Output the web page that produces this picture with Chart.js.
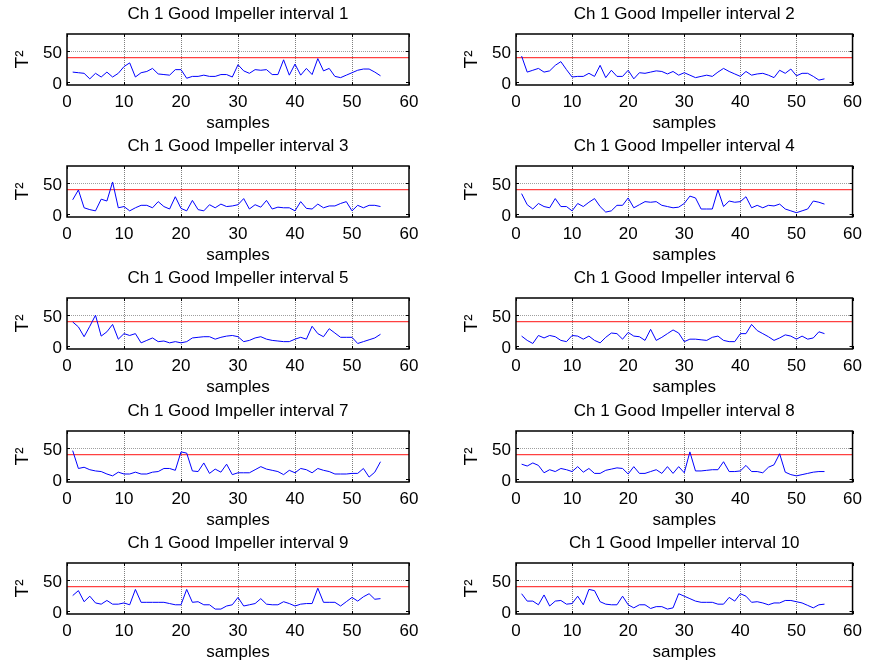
<!DOCTYPE html>
<html><head><meta charset="utf-8">
<script src="https://cdn.jsdelivr.net/npm/chart.js@4/dist/chart.umd.min.js"></script>
<style>
html,body{margin:0;padding:0;background:#fff;width:869px;height:666px;overflow:hidden;position:relative}
canvas{position:absolute}
</style></head><body>
<script>
// ---------- data ----------
const sampleIdx = [1,2,3,4,5,6,7,8,9,10,11,12,13,14,15,16,17,18,19,20,21,22,23,24,25,26,27,28,29,30,31,32,33,34,35,36,37,38,39,40,41,42,43,44,45,46,47,48,49,50,51,52,53,54,55];
const panelTitles = ["Ch 1 Good Impeller interval 1","Ch 1 Good Impeller interval 2","Ch 1 Good Impeller interval 3","Ch 1 Good Impeller interval 4","Ch 1 Good Impeller interval 5","Ch 1 Good Impeller interval 6","Ch 1 Good Impeller interval 7","Ch 1 Good Impeller interval 8","Ch 1 Good Impeller interval 9","Ch 1 Good Impeller interval 10"];
const interval1 = [16,15,14,5,14,8,16,8,14,25,31,8,15,17,22,13,12,11,20,20,6,9,9,11,9,9,12,12,8,28,18,14,20,19,20,12,12,36,11,29,11,22,12,38,18,22,9,7,11,15,19,21,21,16,10];
const interval2 = [42,16,19,22,16,18,27,33,20,8,9,9,14,9,27,7,19,9,9,19,5,15,14,16,18,17,13,17,11,15,11,7,9,11,9,16,22,17,13,9,17,11,13,14,11,7,19,14,21,10,14,14,9,3,5];
const interval3 = [23,39,10,7,5,24,21,52,10,12,5,10,14,14,10,20,12,8,28,9,5,22,7,5,15,10,16,12,13,15,25,8,15,11,22,8,11,10,10,5,20,9,8,16,10,13,13,17,20,5,14,10,14,14,12];
const interval4 = [33,15,8,17,12,10,25,12,12,5,17,12,19,25,12,3,5,14,14,26,10,15,20,19,20,14,12,10,11,17,29,26,8,8,8,39,12,21,19,20,28,10,14,10,14,13,16,8,5,2,5,8,21,19,16];
const interval5 = [39,31,15,32,50,16,23,35,11,20,17,20,5,9,13,7,8,5,7,5,7,13,14,15,15,11,14,16,17,15,7,9,13,15,11,9,8,7,7,11,14,11,32,20,15,28,21,14,14,14,4,7,10,13,19];
const interval6 = [16,9,4,17,13,17,15,9,7,17,16,11,16,9,5,14,21,20,11,22,16,15,9,27,9,14,20,26,21,7,11,11,10,9,14,16,9,7,7,20,20,35,25,20,15,9,13,18,16,11,16,11,13,23,20];
const interval7 = [46,17,19,15,13,12,8,5,11,8,8,11,8,8,11,12,17,17,14,44,42,13,12,26,9,16,11,24,7,10,10,10,15,20,16,14,12,7,14,10,17,15,10,17,14,12,8,8,8,9,9,17,3,11,28];
const interval8 = [24,21,26,22,10,15,12,17,15,12,20,11,17,9,9,14,16,18,17,8,20,9,9,12,15,9,20,9,20,10,44,13,13,14,15,15,28,12,12,13,22,12,12,10,19,23,41,11,7,5,7,9,11,12,12];
const interval9 = [25,33,15,24,13,11,17,11,11,13,10,35,14,14,14,14,14,12,10,10,35,14,15,10,10,3,3,8,10,22,8,10,12,20,11,10,10,15,12,8,11,12,12,37,14,14,14,8,15,22,16,23,28,19,20];
const interval10 = [28,16,16,10,26,8,16,17,11,12,24,10,35,33,15,11,10,10,24,10,5,10,10,4,7,7,3,5,28,24,20,16,14,14,14,11,11,22,16,28,24,14,15,13,10,13,13,17,17,15,13,9,5,10,11];
const limitX = [0, 60];
const limitY = [39.5, 39.5];
const xTicks = [0,10,20,30,40,50,60];
const yTicks = [0,50];
const xGrid = [10,20,30,40,50];
const yGrid = [50];

const seriesList = [interval1,interval2,interval3,interval4,interval5,interval6,interval7,interval8,interval9,interval10];

// ---------- layout ----------
const FONT = "'Liberation Sans', Arial, sans-serif";
const FS = 17;
const colLeft = [67, 516], colWidth = [342, 340];
const rowTop = [34, 166, 298, 431, 563];
const plotH = 51;
const YAXW = 67, XAXH = 50, TITLEH = 35;

const framePlugin = {
  id: 'frame',
  beforeDatasetsDraw(chart) {
    const {ctx, chartArea: a, scales: {x, y}} = chart;
    ctx.save();
    ctx.lineWidth = 1;
    ctx.setLineDash([1, 1]);
    ctx.strokeStyle = 'rgba(0,0,0,0.5)';
    xGrid.forEach(v => {
      const px = Math.round(x.getPixelForValue(v)) + 0.5;
      ctx.beginPath(); ctx.moveTo(px, a.top); ctx.lineTo(px, a.bottom); ctx.stroke();
    });
    ctx.strokeStyle = 'rgba(0,0,0,0.38)';
    yGrid.forEach(v => {
      const py = Math.round(y.getPixelForValue(v)) + 0.5;
      ctx.beginPath(); ctx.moveTo(a.left, py); ctx.lineTo(a.right, py); ctx.stroke();
    });
    ctx.restore();
  },
  afterDatasetsDraw(chart) {
    const {ctx, chartArea: a, scales: {x, y}} = chart;
    ctx.save();
    ctx.setLineDash([]);
    ctx.strokeStyle = '#000';
    ctx.lineWidth = 1;
    const T = 3;
    xTicks.forEach(v => {
      const px = Math.round(x.getPixelForValue(v)) + 0.5;
      ctx.beginPath();
      ctx.moveTo(px, a.bottom); ctx.lineTo(px, a.bottom - T);
      ctx.moveTo(px, a.top); ctx.lineTo(px, a.top + T);
      ctx.stroke();
    });
    yTicks.forEach(v => {
      const py = Math.round(y.getPixelForValue(v)) + 0.5;
      ctx.beginPath();
      ctx.moveTo(a.left, py); ctx.lineTo(a.left + T, py);
      ctx.moveTo(a.right, py); ctx.lineTo(a.right - T, py);
      ctx.stroke();
    });
    ctx.lineWidth = 1.5;
    ctx.strokeRect(a.left, a.top, a.right - a.left, a.bottom - a.top);
    ctx.restore();
  }
};

seriesList.forEach((vals, i) => {
  const col = i % 2, row = Math.floor(i / 2);
  const cLeft = colLeft[col] - YAXW;
  const rightPad = col === 0 ? 20 : 13;
  const cw = YAXW + colWidth[col] + rightPad;
  const ch = TITLEH + plotH + XAXH;
  const cTop = rowTop[row] - TITLEH;
  const cv = document.createElement('canvas');
  cv.width = cw; cv.height = ch;
  cv.style.left = cLeft + 'px'; cv.style.top = cTop + 'px';
  cv.style.width = cw + 'px'; cv.style.height = ch + 'px';
  document.body.appendChild(cv);
  const font = {family: FONT, size: FS, weight: 'normal', lineHeight: 1.2};
  const yTitleFont = {family: FONT, size: 19, weight: 'normal', lineHeight: 1.2};
  new Chart(cv, {
    type: 'line',
    data: {
      datasets: [
        {data: sampleIdx.map((s, k) => ({x: s, y: vals[k]})), borderColor: '#0000ff', borderWidth: 1, pointRadius: 0, tension: 0, fill: false},
        {data: limitX.map((s, k) => ({x: s, y: limitY[k]})), borderColor: 'rgba(255,0,0,0.75)', borderWidth: 1.2, pointRadius: 0, tension: 0, fill: false}
      ]
    },
    options: {
      responsive: false, animation: false, devicePixelRatio: 1,
      layout: {padding: {left: 0, right: rightPad, top: 0, bottom: 0}},
      plugins: {
        legend: {display: false}, tooltip: {enabled: false},
        title: {display: true, text: panelTitles[i], font, color: '#000', fullSize: false, padding: {top: 4.8, bottom: 9.8}}
      },
      scales: {
        x: {
          type: 'linear', min: 0, max: 60,
          afterBuildTicks: s => { s.ticks = xTicks.map(v => ({value: v})); },
          afterFit: s => { s.height = XAXH; },
          grid: {display: false, drawTicks: false}, border: {display: false},
          ticks: {padding: 7, font, color: '#000', maxRotation: 0, autoSkip: false},
          title: {display: true, text: 'samples', font, color: '#000', padding: {top: 0, bottom: 1}}
        },
        y: {
          type: 'linear', min: -5, max: 78,
          afterBuildTicks: s => { s.ticks = yTicks.map(v => ({value: v})); },
          afterFit: s => { s.width = YAXW; },
          grid: {display: false, drawTicks: false}, border: {display: false},
          ticks: {padding: 5, font, color: '#000', labelOffset: 2},
          title: {display: true, text: 'T²', font: yTitleFont, color: '#000', padding: {top: 11, bottom: 0}}
        }
      }
    },
    plugins: [framePlugin]
  });
});
</script>
</body></html>
